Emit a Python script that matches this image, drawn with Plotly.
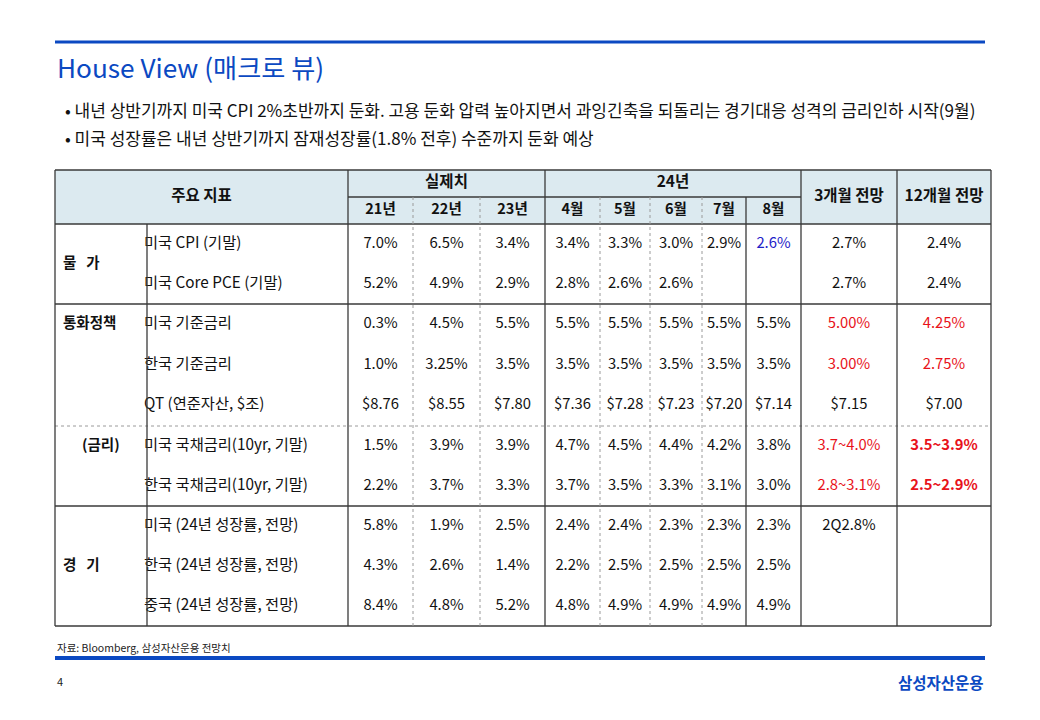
import plotly.graph_objects as go

# ---------------- data ----------------
title = "House View (매크로 뷰)"
bullets = [
    "• 내년 상반기까지 미국 CPI 2%초반까지 둔화. 고용 둔화 압력 높아지면서 과잉긴축을 되돌리는 경기대응 성격의 금리인하 시작(9월)",
    "• 미국 성장률은 내년 상반기까지 잠재성장률(1.8% 전후) 수준까지 둔화 예상",
]
source_note = "자료: Bloomberg, 삼성자산운용 전망치"
page_no = "4"
brand = "삼성자산운용"

header_main = "주요 지표"
header_groups = ["실제치", "24년"]
sub_headers = ["21년", "22년", "23년", "4월", "5월", "6월", "7월", "8월"]
forecast_headers = ["3개월 전망", "12개월 전망"]

groups = ["물\u00a0\u00a0\u00a0가", "통화정책", "(금리)", "경\u00a0\u00a0\u00a0기"]
group_label_row = [0.5, 2, 5, 8]

indicators = [
    "미국 CPI (기말)", "미국 Core PCE (기말)", "미국 기준금리", "한국 기준금리",
    "QT (연준자산, $조)", "미국 국채금리(10yr, 기말)", "한국 국채금리(10yr, 기말)",
    "미국 (24년 성장률, 전망)", "한국 (24년 성장률, 전망)", "중국 (24년 성장률, 전망)",
]
y21 = ["7.0%", "5.2%", "0.3%", "1.0%", "$8.76", "1.5%", "2.2%", "5.8%", "4.3%", "8.4%"]
y22 = ["6.5%", "4.9%", "4.5%", "3.25%", "$8.55", "3.9%", "3.7%", "1.9%", "2.6%", "4.8%"]
y23 = ["3.4%", "2.9%", "5.5%", "3.5%", "$7.80", "3.9%", "3.3%", "2.5%", "1.4%", "5.2%"]
m_apr = ["3.4%", "2.8%", "5.5%", "3.5%", "$7.36", "4.7%", "3.7%", "2.4%", "2.2%", "4.8%"]
m_may = ["3.3%", "2.6%", "5.5%", "3.5%", "$7.28", "4.5%", "3.5%", "2.4%", "2.5%", "4.9%"]
m_jun = ["3.0%", "2.6%", "5.5%", "3.5%", "$7.23", "4.4%", "3.3%", "2.3%", "2.5%", "4.9%"]
m_jul = ["2.9%", "", "5.5%", "3.5%", "$7.20", "4.2%", "3.1%", "2.3%", "2.5%", "4.9%"]
m_aug = ["2.6%", "", "5.5%", "3.5%", "$7.14", "3.8%", "3.0%", "2.3%", "2.5%", "4.9%"]
f_3m = ["2.7%", "2.7%", "5.00%", "3.00%", "$7.15", "3.7~4.0%", "2.8~3.1%", "2Q2.8%", "", ""]
f_12m = ["2.4%", "2.4%", "4.25%", "2.75%", "$7.00", "3.5~3.9%", "2.5~2.9%", "", "", ""]

# highlight rules: (column index, row index)
red_cells = [(8, 2), (8, 3), (8, 5), (8, 6), (9, 2), (9, 3), (9, 5), (9, 6)]
bold_cells = [(9, 5), (9, 6)]
blue_cells = [(7, 0)]

# ---------------- layout geometry (page pixels) ----------------
W, H = 1040, 720
PAD = 8  # default page body margin
FONT = "Noto Sans CJK KR"
BLUE = "#0B49C2"
LINE = "#3a3a3a"
DOT = "#9a9a9a"
HEAD_FILL = "#DCEAF0"
TXT = "#111111"

x_left, x_cat, x_ind_end, x_right = 55, 147, 348, 991
col_edges = [348, 413, 480, 545, 600, 650, 702, 746, 801, 897, 991]
y_top, y_mid_head, y_head_bot = 170, 197, 224
row_edges = [224, 264, 304, 345, 385, 426, 466, 506, 546, 586, 626]
solid_row_lines = [224, 304, 506, 626]
dotted_row_lines = [426]
dotted_cols = [413, 480, 600, 650, 702]
sub_solid_cols = [746]
full_solid_cols = [55, 348, 545, 801, 897, 991]

columns = [y21, y22, y23, m_apr, m_may, m_jun, m_jul, m_aug, f_3m, f_12m]
col_centers = [(col_edges[i] + col_edges[i + 1]) / 2 for i in range(len(columns))]
row_centers = [(row_edges[i] + row_edges[i + 1]) / 2 for i in range(len(indicators))]

fig = go.Figure()
shapes = []

shapes.append(dict(type="rect", x0=x_left, x1=x_right, y0=y_top, y1=y_head_bot,
                   fillcolor=HEAD_FILL, line=dict(width=0), layer="below"))
shapes.append(dict(type="line", x0=55, x1=985, y0=42, y1=42, line=dict(color=BLUE, width=3)))
shapes.append(dict(type="line", x0=55, x1=985, y0=658, y1=658, line=dict(color=BLUE, width=4)))

shapes.append(dict(type="line", x0=x_left, x1=x_right, y0=y_top, y1=y_top, line=dict(color=LINE, width=1.3)))
shapes.append(dict(type="line", x0=col_edges[0], x1=col_edges[8], y0=y_mid_head, y1=y_mid_head,
                   line=dict(color=LINE, width=1.3)))
for yy in solid_row_lines:
    shapes.append(dict(type="line", x0=x_left, x1=x_right, y0=yy, y1=yy, line=dict(color=LINE, width=1.3)))
for yy in dotted_row_lines:
    shapes.append(dict(type="line", x0=x_left, x1=x_right, y0=yy, y1=yy, line=dict(color=DOT, width=1, dash="dot")))

for xx in full_solid_cols:
    shapes.append(dict(type="line", x0=xx, x1=xx, y0=y_top, y1=row_edges[-1], line=dict(color=LINE, width=1.3)))
shapes.append(dict(type="line", x0=x_cat, x1=x_cat, y0=y_head_bot, y1=row_edges[-1], line=dict(color=LINE, width=1.3)))
for xx in sub_solid_cols:
    shapes.append(dict(type="line", x0=xx, x1=xx, y0=y_mid_head, y1=row_edges[-1], line=dict(color=LINE, width=1.3)))
for xx in dotted_cols:
    shapes.append(dict(type="line", x0=xx, x1=xx, y0=y_mid_head, y1=row_edges[-1], line=dict(color=DOT, width=1, dash="dot")))

# ---------------- header text ----------------
hx = [(x_left + x_ind_end) / 2, (col_edges[0] + col_edges[3]) / 2, (col_edges[3] + col_edges[8]) / 2,
      col_centers[8], col_centers[9]]
hy = [(y_top + y_head_bot) / 2, (y_top + y_mid_head) / 2, (y_top + y_mid_head) / 2,
      (y_top + y_head_bot) / 2, (y_top + y_head_bot) / 2]
ht = [header_main] + header_groups + forecast_headers
fig.add_trace(go.Scatter(x=hx, y=hy, mode="text", text=[f"<b>{t}</b>" for t in ht],
                         textfont=dict(family=FONT, size=15.5, color=TXT), hoverinfo="skip"))
fig.add_trace(go.Scatter(x=col_centers[:8], y=[(y_mid_head + y_head_bot) / 2] * 8, mode="text",
                         text=[f"<b>{t}</b>" for t in sub_headers],
                         textfont=dict(family=FONT, size=14.5, color=TXT), hoverinfo="skip"))

# ---------------- group labels ----------------
gy = []
for r in group_label_row:
    ri = int(r)
    gy.append(row_edges[ri + 1] if r != ri else row_centers[ri])
gx = [63, 63, 82, 63]
fig.add_trace(go.Scatter(x=gx, y=gy, mode="text", text=[f"<b>{g}</b>" for g in groups],
                         textposition="middle right",
                         textfont=dict(family=FONT, size=14.5, color=TXT), hoverinfo="skip"))

# ---------------- indicator labels ----------------
fig.add_trace(go.Scatter(x=[x_cat - 3] * len(indicators), y=row_centers, mode="text", text=indicators,
                         textposition="middle right",
                         textfont=dict(family=FONT, size=15.3, color=TXT), hoverinfo="skip"))

# ---------------- values ----------------
for ci, col in enumerate(columns):
    texts, colors = [], []
    for ri, v in enumerate(col):
        c = TXT
        if (ci, ri) in red_cells:
            c = "#E8121A"
        if (ci, ri) in blue_cells:
            c = "#1E22C8"
        colors.append(c)
        texts.append(f"<b>{v}</b>" if (ci, ri) in bold_cells and v else v)
    fig.add_trace(go.Scatter(x=[col_centers[ci]] * len(col), y=row_centers, mode="text", text=texts,
                             textfont=dict(family=FONT, size=14.8, color=colors), hoverinfo="skip"))

# ---------------- page texts ----------------
ann = []
ann.append(dict(x=55, y=67, text=title, showarrow=False, xanchor="left", yanchor="middle",
                font=dict(family=FONT, size=26.2, color=BLUE)))
for i, b in enumerate(bullets):
    ann.append(dict(x=63, y=109 + 28 * i, text=b, showarrow=False, xanchor="left", yanchor="middle",
                    font=dict(family=FONT, size=17, color=TXT)))
ann.append(dict(x=55, y=647, text=source_note, showarrow=False, xanchor="left", yanchor="middle",
                font=dict(family=FONT, size=10.5, color="#222")))
ann.append(dict(x=55, y=681, text=page_no, showarrow=False, xanchor="left", yanchor="middle",
                font=dict(family=FONT, size=11, color="#222")))
ann.append(dict(x=986, y=682, text=f"<b>{brand}</b>", showarrow=False, xanchor="right", yanchor="middle",
                font=dict(family=FONT, size=15.5, color=BLUE)))

fig.update_layout(
    width=W - PAD, height=H - PAD, margin=dict(l=0, r=0, t=0, b=0),
    paper_bgcolor="white", plot_bgcolor="white", showlegend=False,
    xaxis=dict(range=[PAD, W], visible=False, fixedrange=True),
    yaxis=dict(range=[H, PAD], visible=False, fixedrange=True),
    shapes=shapes, annotations=ann,
)
fig.write_html("out.html")
